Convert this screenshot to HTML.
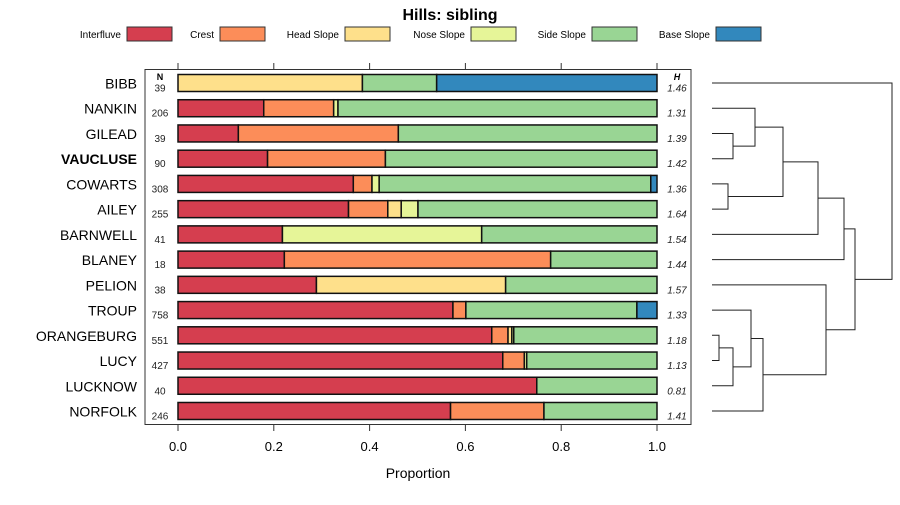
<!DOCTYPE html>
<html><head><meta charset="utf-8"><style>
body{margin:0;background:#fff}
svg{font-family:"Liberation Sans",sans-serif}
</style></head><body>
<svg id="c" width="900" height="500" xmlns="http://www.w3.org/2000/svg"></svg>
<script>
const categories=["BIBB","NANKIN","GILEAD","VAUCLUSE","COWARTS","AILEY","BARNWELL","BLANEY","PELION","TROUP","ORANGEBURG","LUCY","LUCKNOW","NORFOLK"];
const seriesNames=["Interfluve","Crest","Head Slope","Nose Slope","Side Slope","Base Slope"];
const interfluve=[0,0.179,0.126,0.187,0.366,0.356,0.218,0.222,0.289,0.574,0.655,0.678,0.749,0.569];
const crest=[0,0.146,0.334,0.246,0.039,0.082,0,0.556,0,0.027,0.034,0.045,0,0.195];
const headSlope=[0.385,0,0,0,0,0.028,0,0,0.395,0,0.008,0,0,0];
const noseSlope=[0,0.009,0,0,0.015,0.035,0.416,0,0,0,0.004,0.005,0,0];
const sideSlope=[0.155,0.666,0.54,0.567,0.567,0.499,0.366,0.222,0.316,0.357,0.299,0.272,0.251,0.236];
const baseSlope=[0.46,0,0,0,0.013,0,0,0,0,0.042,0,0,0,0];
const nValues=["39","206","39","90","308","255","41","18","38","758","551","427","40","246"];
const hValues=["1.46","1.31","1.39","1.42","1.36","1.64","1.54","1.44","1.57","1.33","1.18","1.13","0.81","1.41"];
const xTicks=[0,0.2,0.4,0.6,0.8,1.0];
const xTickLabels=["0.0","0.2","0.4","0.6","0.8","1.0"];
// dendrogram merges: [a,b,height]; leaves are 0..13, merged nodes 14+
const merges=[[10,11,0.07],[4,5,0.16],[2,3,0.21],[14,12,0.21],[17,9,0.39],[1,16,0.43],[18,13,0.51],[19,15,0.71],[21,6,1.06],[8,20,1.14],[22,7,1.32],[24,23,1.43],[0,25,1.80]];
const colors=["#d53e4f","#fc8d59","#fee08b","#e6f598","#99d594","#3288bd"];
const series=[interfluve,crest,headSlope,noseSlope,sideSlope,baseSlope];
const NS="http://www.w3.org/2000/svg",svg=document.getElementById("c");
function mk(t,a,p){const e=document.createElementNS(NS,t);for(const k in a)e.setAttribute(k,a[k]);(p||svg).appendChild(e);return e;}
const X0=178,X1=657;const xs=v=>X0+(X1-X0)*v;
const Y0=83.5,DY=25.23;const ys=i=>Y0+i*DY;
let t=mk("text",{x:450,y:20,"text-anchor":"middle","font-size":16,"font-weight":"bold"});t.textContent="Hills: sibling";


const legX=[121,214,339,465,586,710];
seriesNames.forEach((n,i)=>{
 const g=mk("g",{});
 
 
 const tx=mk("text",{x:legX[i],y:38,"text-anchor":"end","font-size":10},g);tx.textContent=n;
 mk("rect",{x:legX[i]+6,y:27,width:45,height:14,fill:colors[i],stroke:"#333","stroke-width":1},g);
});
const box=mk("rect",{x:145,y:69.5,width:546,height:355,fill:"none",stroke:"#333","stroke-width":1});


xTicks.forEach((v,i)=>{
 mk("line",{x1:xs(v),x2:xs(v),y1:63,y2:69.5,stroke:"#333"});
 mk("line",{x1:xs(v),x2:xs(v),y1:424.5,y2:431,stroke:"#333"});
 const l=mk("text",{x:xs(v),y:451,"text-anchor":"middle","font-size":13});l.textContent=xTickLabels[i];
 
 
});
t=mk("text",{x:418,y:478,"text-anchor":"middle","font-size":14});t.textContent="Proportion";


t=mk("text",{x:160,y:80,"text-anchor":"middle","font-size":9,"font-weight":"bold"});t.textContent="N";
t=mk("text",{x:677,y:80,"text-anchor":"middle","font-size":9,"font-weight":"bold","font-style":"italic"});t.textContent="H";
categories.forEach((c,i)=>{
 const y=ys(i);
 const lb=mk("text",{x:137,y:y+5,"text-anchor":"end","font-size":14,"font-weight":c==="VAUCLUSE"?"bold":"normal"});lb.textContent=c;
 
 
 const n=mk("text",{x:160,y:y+8,"text-anchor":"middle","font-size":10,fill:"#222"});n.textContent=nValues[i];
 
 
 const h=mk("text",{x:677,y:y+8,"text-anchor":"middle","font-size":10,"font-style":"italic",fill:"#222"});h.textContent=hValues[i];
 
 
 let cum=0;
 series.forEach((s,k)=>{
  const v=s[i];if(v<=0)return;
  const r=mk("rect",{x:xs(cum),y:y-9,width:xs(cum+v)-xs(cum),height:17,fill:colors[k],stroke:"#111","stroke-width":1.5});
  
  
  cum+=v;
 });
});
// dendrogram
const DX0=712,DX1=892,maxH=merges[merges.length-1][2];
const dx=h=>DX0+(DX1-DX0)*h/maxH;
const nodes=categories.map((c,i)=>({x:DX0,y:ys(i)-0.5}));
merges.forEach(m=>{
 const a=nodes[m[0]],b=nodes[m[1]],x=dx(m[2]);
 const p=mk("path",{d:`M${a.x},${a.y}H${x}V${b.y}H${b.x}`,fill:"none",stroke:"#222","stroke-width":1});
 
 
 nodes.push({x:x,y:(a.y+b.y)/2});
});
</script>
</body></html>
